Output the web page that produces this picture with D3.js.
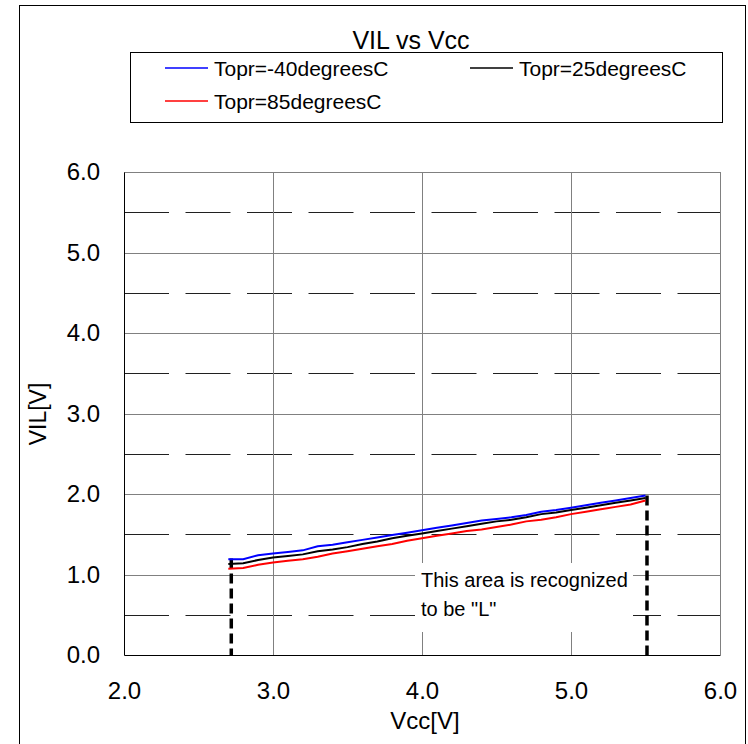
<!DOCTYPE html>
<html><head><meta charset="utf-8">
<script src="https://cdn.jsdelivr.net/npm/d3@7"></script>
<style>body{margin:0;background:#fff}svg{display:block}text{font-family:"Liberation Sans",Arial,sans-serif;fill:#000}</style>
</head><body><svg id="c" width="748" height="744"></svg>
<script>
const vcc = [2.7,2.8,2.9,3.0,3.1,3.2,3.3,3.4,3.5,3.6,3.7,3.8,3.9,4.0,4.1,4.2,4.3,4.4,4.5,4.6,4.7,4.8,4.9,5.0,5.1,5.2,5.3,5.4,5.5];
const vilM40 = [1.19,1.19,1.24,1.26,1.28,1.30,1.35,1.37,1.40,1.43,1.46,1.49,1.52,1.55,1.58,1.61,1.64,1.67,1.69,1.71,1.74,1.78,1.80,1.83,1.86,1.89,1.92,1.95,1.98];
const vil25  = [1.13,1.14,1.18,1.21,1.23,1.25,1.29,1.31,1.34,1.38,1.41,1.45,1.48,1.51,1.54,1.57,1.60,1.63,1.66,1.68,1.71,1.75,1.77,1.80,1.83,1.86,1.89,1.92,1.95];
const vil85  = [1.07,1.08,1.12,1.15,1.17,1.19,1.22,1.26,1.29,1.32,1.35,1.38,1.42,1.45,1.48,1.51,1.54,1.56,1.59,1.62,1.66,1.68,1.71,1.75,1.78,1.81,1.84,1.87,1.92];
const seriesNames = ["Topr=-40degreesC","Topr=25degreesC","Topr=85degreesC"];
const seriesColors = ["#0000ff","#000000","#ff0000"];
const xTicks = [2.0,3.0,4.0,5.0,6.0];
const yTicks = [0.0,1.0,2.0,3.0,4.0,5.0,6.0];
const yMinor = [0.5,1.5,2.5,3.5,4.5,5.5];
const boundaryVcc = [2.72,5.51];
const boundaryVil = [1.20,1.98];
const title = "VIL vs Vcc";
const xTitle = "Vcc[V]";
const yTitle = "VIL[V]";
const note = ["This area is recognized","to be \"L\""];

const svg = d3.select("#c");
const L=124,R=720,T=172,B=655;
const x = d3.scaleLinear().domain([2,6]).range([L,R]);
const y = d3.scaleLinear().domain([0,6]).range([B,T]);

// outer frame
svg.append("rect").attr("x",19.5).attr("y",5.5).attr("width",726).attr("height",760)
  .attr("fill","none").attr("stroke","#000").attr("stroke-width",1);

// title
svg.append("text").attr("x",411).attr("y",49).attr("text-anchor","middle")
  .attr("font-size",25).text(title);

// legend
const lg = svg.append("g");
lg.append("rect").attr("x",130.5).attr("y",52.5).attr("width",592).attr("height",70)
  .attr("fill","#fff").attr("stroke","#000");
const legPos = [[165,68],[470,68],[165,101]];
seriesNames.forEach((n,i)=>{
  const [lx,ly]=legPos[i];
  lg.append("line").attr("x1",lx).attr("x2",lx+43).attr("y1",ly).attr("y2",ly)
    .attr("stroke",seriesColors[i]).attr("stroke-width",1.5);
  lg.append("text").attr("x",lx+49).attr("y",ly+8).attr("font-size",21).text(n);
});

// grid
const g = svg.append("g");
g.selectAll(".minor").data(yMinor).join("line")
  .attr("x1",L).attr("x2",R).attr("y1",d=>Math.round(y(d))+0.5).attr("y2",d=>Math.round(y(d))+0.5)
  .attr("stroke","#202020").attr("stroke-dasharray","45,16.5");
g.selectAll(".hg").data(yTicks.slice(1,-1)).join("line")
  .attr("x1",L).attr("x2",R).attr("y1",d=>Math.round(y(d))+0.5).attr("y2",d=>Math.round(y(d))+0.5)
  .attr("stroke","#808080");
g.selectAll(".vg").data(xTicks.slice(1,-1)).join("line")
  .attr("y1",T).attr("y2",B).attr("x1",d=>Math.round(x(d))+0.5).attr("x2",d=>Math.round(x(d))+0.5)
  .attr("stroke","#808080");
// plot border
g.append("line").attr("x1",L).attr("x2",R).attr("y1",T+0.5).attr("y2",T+0.5).attr("stroke","#808080");
g.append("line").attr("x1",R+0.5).attr("x2",R+0.5).attr("y1",T).attr("y2",B).attr("stroke","#808080");

// annotation box
svg.append("rect").attr("x",415).attr("y",563).attr("width",218).attr("height",69).attr("fill","#fff");
note.forEach((t,i)=>svg.append("text").attr("x",421).attr("y",587+i*29).attr("font-size",20).text(t));

// boundary lines
boundaryVcc.forEach((v,i)=>{
  svg.append("line").attr("x1",x(v)).attr("x2",x(v)).attr("y1",y(boundaryVil[i])).attr("y2",B)
    .attr("stroke","#000").attr("stroke-width",3.5).attr("stroke-dasharray","10,5");
});

// series
const line = d3.line().x((d,i)=>x(vcc[i])).y(d=>y(d));
[vilM40,vil25,vil85].forEach((s,i)=>{
  svg.append("path").datum(s).attr("d",line).attr("fill","none")
    .attr("stroke",seriesColors[i]).attr("stroke-width",2);
});

// axes
const xa = svg.append("g").attr("transform",`translate(0,${B})`)
  .call(d3.axisBottom(x).tickValues(xTicks).tickFormat(d3.format(".1f")).tickSize(0).tickPadding(27));
xa.select(".domain").attr("stroke","#000");
xa.selectAll("text").attr("font-size",24).attr("font-family","Liberation Sans, Arial, sans-serif");
const ya = svg.append("g").attr("transform",`translate(${L},0)`)
  .call(d3.axisLeft(y).tickValues(yTicks).tickFormat(d3.format(".1f")).tickSize(0).tickPadding(24));
ya.select(".domain").attr("stroke","#000");
ya.selectAll("text").attr("font-size",24).attr("font-family","Liberation Sans, Arial, sans-serif");

svg.append("text").attr("x",425).attr("y",729).attr("text-anchor","middle").attr("font-size",24).text(xTitle);
svg.append("text").attr("transform","translate(46,414) rotate(-90)").attr("text-anchor","middle")
  .attr("font-size",23).text(yTitle);
</script></body></html>
